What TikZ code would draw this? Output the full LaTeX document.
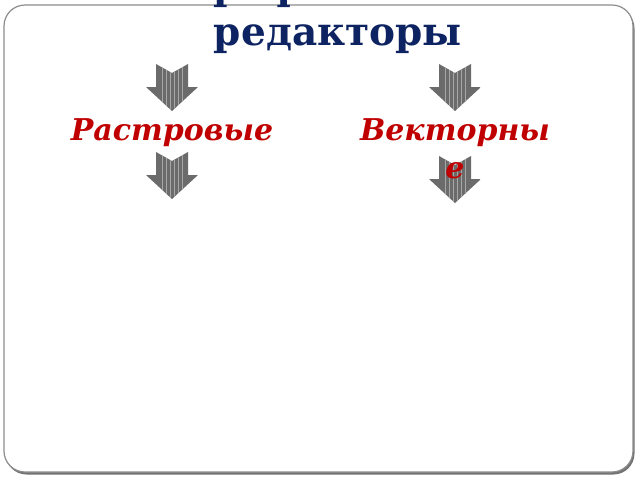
\documentclass[tikz,border=0pt]{standalone}
\usepackage{fontspec}
\setmainfont{DejaVu Serif}
\definecolor{titleblue}{RGB}{14,36,98}
\definecolor{catred}{RGB}{192,0,0}

\begin{document}
\begin{tikzpicture}[x=1pt,y=-1pt,
  title/.style={font=\fontsize{39}{44}\selectfont\bfseries, text=titleblue, inner sep=0pt, anchor=base},
  category/.style={font=\fontsize{30}{38}\selectfont\bfseries\itshape, text=catred, inner sep=0pt, anchor=base, align=center},
  arrowbody/.style={fill=black!58},
  stripe/.style={draw=black!35, line width=0.9pt}]
\useasboundingbox (0,0) rectangle (640,480);
\fill[white] (0,0) rectangle (640,480);
\fill[black!55, rounded corners=21pt] (5.5,7.5) rectangle (634.5,474.5);
\draw[black!45, fill=white, line width=1.2pt, rounded corners=21pt] (4,5) rectangle (633,472);

\node[title] (t1) at (338,-1) {Графические};
\node[title] (t2) at (338,45) {редакторы};

\foreach \cx/\ty in {172/64, 172/152, 455/64, 455/156} {
  \begin{scope}
  \path[clip] (\cx-16,\ty) -- (\cx,\ty+9) -- (\cx+16,\ty) -- (\cx+16,\ty+23) -- (\cx+26,\ty+23)
    -- (\cx,\ty+47) -- (\cx-26,\ty+23) -- (\cx-16,\ty+23) -- cycle;
  \fill[arrowbody] (\cx-26,\ty) rectangle (\cx+26,\ty+47);
  \foreach \s in {-10,-6,...,10} \draw[stripe] (\cx+\s,\ty) -- (\cx+\s,\ty+47);
  \end{scope}
}

\node[category] (raster) at (172,140) {Растровые};
\node[category] (vector) at (455,178) {Векторны\\е};
\end{tikzpicture}
\end{document}
